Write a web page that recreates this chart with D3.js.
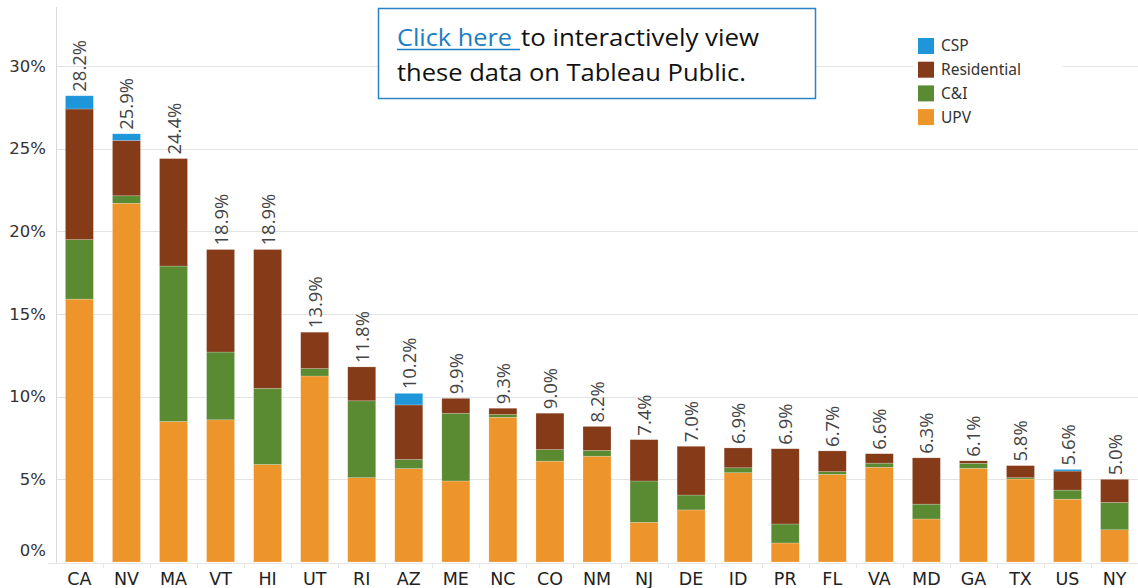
<!DOCTYPE html>
<html>
<head>
<meta charset="utf-8">
<script src="https://cdn.jsdelivr.net/npm/d3@7"></script>
<style>
  body { margin: 0; background: #fff; }
  svg { display: block; }
</style>
</head>
<body>
<script>
const width = 1138, height = 588;

const states = ["CA","NV","MA","VT","HI","UT","RI","AZ","ME","NC","CO","NM","NJ","DE","ID","PR","FL","VA","MD","GA","TX","US","NY"];
const upv = [15.9,21.7,8.5,8.6,5.9,11.25,5.1,5.65,4.9,8.75,6.1,6.4,2.4,3.15,5.4,1.15,5.3,5.73,2.6,5.67,5.02,3.8,1.95];
const ci  = [3.6,0.45,9.4,4.1,4.6,0.45,4.65,0.55,4.1,0.17,0.7,0.35,2.5,0.9,0.3,1.15,0.17,0.25,0.9,0.3,0.08,0.55,1.65];
const res = [7.9,3.35,6.5,6.2,8.4,2.2,2.05,3.3,0.9,0.38,2.2,1.45,2.5,2.95,1.2,4.55,1.25,0.57,2.8,0.15,0.73,1.15,1.4];
const csp = [0.8,0.4,0,0,0,0,0,0.7,0,0,0,0,0,0,0,0,0,0,0,0,0,0.1,0];
const totals = [28.2,25.9,24.4,18.9,18.9,13.9,11.8,10.2,9.9,9.3,9.0,8.2,7.4,7.0,6.9,6.9,6.7,6.6,6.3,6.1,5.8,5.6,5.0];
const yTicks = [0,5,10,15,20,25,30];

const seriesNames = ["UPV","C&I","Residential","CSP"];
const colors = {"UPV":"#ed942b","C&I":"#5a8b33","Residential":"#853a18","CSP":"#1f96da"};

let svg = d3.select("body").append("svg").attr("width",width).attr("height",height);

let x = d3.scaleBand().domain(states).range([56,1138]).paddingInner(0.405).paddingOuter(0.2);
let y = d3.scaleLinear().domain([0,30]).range([562,66]);

// gridlines
svg.append("g").selectAll("line").data(yTicks.slice(1)).join("line")
  .attr("x1",56).attr("x2",width)
  .attr("y1",d=>Math.round(y(d))+0.5).attr("y2",d=>Math.round(y(d))+0.5)
  .attr("stroke","#e3e3e3");

// axis lines
svg.append("line").attr("x1",56.5).attr("x2",56.5).attr("y1",7).attr("y2",563).attr("stroke","#d9d9d9");
svg.append("line").attr("x1",48).attr("x2",width).attr("y1",563.5).attr("y2",563.5).attr("stroke","#e6e6e6");
svg.append("g").selectAll("line").data(states.slice(1)).join("line")
  .attr("x1",d=>Math.round(x(d)-x.step()*x.paddingInner()/2)+0.5)
  .attr("x2",d=>Math.round(x(d)-x.step()*x.paddingInner()/2)+0.5)
  .attr("y1",564).attr("y2",568).attr("stroke","#e6e6e6");

// y tick labels
svg.append("g").selectAll("text").data(yTicks).join("text")
  .attr("x",46).attr("y",d=>d===0 ? y(d)-12 : y(d))
  .attr("dy","0.35em").attr("text-anchor","end")
  .attr("font-family","DejaVu Sans, sans-serif").attr("font-size",16.5).attr("fill","#333")
  .text(d=>d+"%");

// stacked data
let table = states.map((s,i)=>({state:s,"UPV":upv[i],"C&I":ci[i],"Residential":res[i],"CSP":csp[i],total:totals[i]}));
let stack = d3.stack().keys(seriesNames)(table);

svg.append("g").selectAll("g").data(stack).join("g")
  .attr("fill",d=>colors[d.key])
  .selectAll("rect").data(d=>d).join("rect")
  .attr("x",d=>x(d.data.state)).attr("width",x.bandwidth())
  .attr("y",d=>y(d[1])).attr("height",d=>Math.max(0,y(d[0])-y(d[1])))
  .attr("stroke","#fff").attr("stroke-opacity",0.35).attr("stroke-width",0.6);

// bar total labels
svg.append("g").selectAll("text").data(table).join("text")
  .attr("transform",d=>{
    let top = d["UPV"]+d["C&I"]+d["Residential"]+d["CSP"];
    return `translate(${x(d.state)+x.bandwidth()/2+7},${y(top)-4}) rotate(-90)`;
  })
  .attr("font-family","Open Sans, sans-serif").attr("font-size",18.5).attr("fill","#444")
  .text(d=>d.total.toFixed(1)+"%");

// x labels
svg.append("g").selectAll("text").data(states).join("text")
  .attr("x",d=>x(d)+x.bandwidth()/2).attr("y",579).attr("dy","0.35em")
  .attr("text-anchor","middle")
  .attr("font-family","DejaVu Sans, sans-serif").attr("font-size",17.5).attr("fill","#222")
  .text(d=>d);

// legend
let legend = svg.append("g");
legend.append("rect").attr("x",913).attr("y",30).attr("width",150).attr("height",100).attr("fill","#fff");
let legendOrder = ["CSP","Residential","C&I","UPV"];
legendOrder.forEach((k,i)=>{
  legend.append("rect").attr("x",918).attr("y",38+i*23.7).attr("width",16).attr("height",16).attr("fill",colors[k]);
  legend.append("text").attr("x",941).attr("y",46+i*23.7).attr("dy","0.35em")
    .attr("font-family","Noto Sans, sans-serif").attr("font-size",15.5).attr("fill","#333").text(k);
});

// link box
let box = svg.append("g");
box.append("rect").attr("x",378.5).attr("y",8.5).attr("width",437).attr("height",90)
  .attr("fill","#fff").attr("stroke","#2a83c4").attr("stroke-width",1.5);
box.append("text").attr("x",397).attr("y",46).attr("textLength",115).attr("lengthAdjust","spacingAndGlyphs")
  .attr("font-family","Open Sans, sans-serif").attr("font-size",24).attr("fill","#1b7dc2").text("Click here");
box.append("line").attr("x1",397).attr("x2",520).attr("y1",49.5).attr("y2",49.5).attr("stroke","#1b7dc2").attr("stroke-width",1.5);
box.append("text").attr("x",521).attr("y",46).attr("textLength",238).attr("lengthAdjust","spacingAndGlyphs")
  .attr("font-family","Open Sans, sans-serif").attr("font-size",24).attr("fill","#111").text("to interactively view");
box.append("text").attr("x",397).attr("y",81).attr("textLength",349).attr("lengthAdjust","spacingAndGlyphs")
  .attr("font-family","Open Sans, sans-serif").attr("font-size",24).attr("fill","#111").text("these data on Tableau Public.");
</script>
</body>
</html>
